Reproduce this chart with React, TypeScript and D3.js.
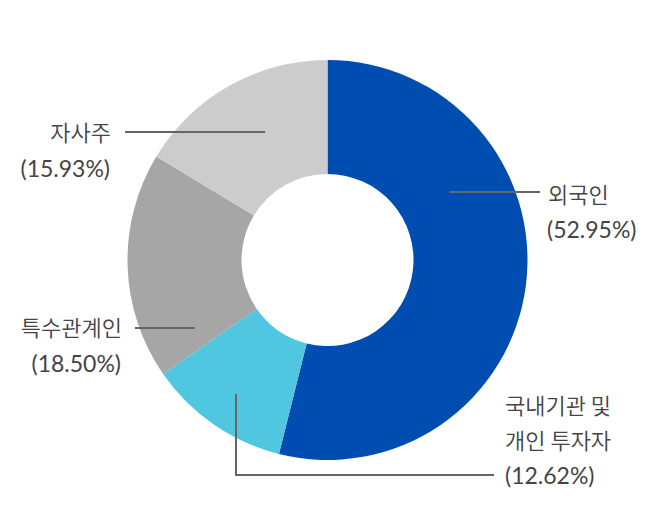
import React from "react";
import * as d3 from "d3";

const categories = ["외국인", "국내기관 및 개인 투자자", "특수관계인", "자사주"];
const percentLabels = ["(52.95%)", "(12.62%)", "(18.50%)", "(15.93%)"];
// slice shares as drawn in the picture (measured from the angles)
const drawnShares = [53.9, 11.45, 18.3, 16.35];
const colors = ["#004DB2", "#50C6E0", "#A6A6A6", "#CCCCCC"];

const W = 656;
const H = 520;
const cx = 327.5;
const cy = 260;
const outerR = 200;
const innerR = 86;

const krFont = "'Noto Sans CJK KR', sans-serif";
const numFont = "Lato, 'Noto Sans CJK KR', sans-serif";
const textColor = "#444";
const lineColor = "#666";

export default function App() {
  const pie = d3.pie<number>().sort(null).value((d) => d);
  const arcs = pie(drawnShares);
  const arc = d3.arc<d3.PieArcDatum<number>>().innerRadius(innerR).outerRadius(outerR);

  const kfs = 22;
  const nfs = 23;
  const kw = 350;
  const nw = 400;
  return (
    <svg width={W} height={H} style={{ position: "absolute", left: 0, top: 0 }}>
      <g transform={`translate(${cx},${cy})`}>
        {arcs.map((a, i) => (
          <path key={i} d={arc(a) || ""} fill={colors[i]} />
        ))}
      </g>
      <g fill={textColor}>
        {/* 외국인 */}
        <line x1={450} y1={192} x2={540} y2={192} stroke={lineColor} strokeWidth={2} />
        <text x={548} y={203} fontFamily={krFont} fontSize={kfs} fontWeight={kw}>{categories[0]}</text>
        <text x={547} y={238} fontFamily={numFont} fontSize={nfs} fontWeight={nw}>{percentLabels[0]}</text>

        {/* 국내기관 및 개인 투자자 */}
        <polyline points="236,394 236,475 494,475" fill="none" stroke={lineColor} strokeWidth={2} />
        <text x={505} y={414} fontFamily={krFont} fontSize={kfs} fontWeight={kw}>국내기관 및</text>
        <text x={505} y={449} fontFamily={krFont} fontSize={kfs} fontWeight={kw}>개인 투자자</text>
        <text x={505} y={484} fontFamily={numFont} fontSize={nfs} fontWeight={nw}>{percentLabels[1]}</text>

        {/* 특수관계인 */}
        <line x1={135} y1={328} x2={195} y2={328} stroke={lineColor} strokeWidth={2} />
        <text x={122} y={336} textAnchor="end" fontFamily={krFont} fontSize={kfs} fontWeight={kw}>{categories[2]}</text>
        <text x={121} y={372} textAnchor="end" fontFamily={numFont} fontSize={nfs} fontWeight={nw}>{percentLabels[2]}</text>

        {/* 자사주 */}
        <line x1={125} y1={132} x2={265} y2={132} stroke={lineColor} strokeWidth={2} />
        <text x={111} y={141} textAnchor="end" fontFamily={krFont} fontSize={kfs} fontWeight={kw}>{categories[3]}</text>
        <text x={110} y={177} textAnchor="end" fontFamily={numFont} fontSize={nfs} fontWeight={nw}>{percentLabels[3]}</text>
      </g>
    </svg>
  );
}
